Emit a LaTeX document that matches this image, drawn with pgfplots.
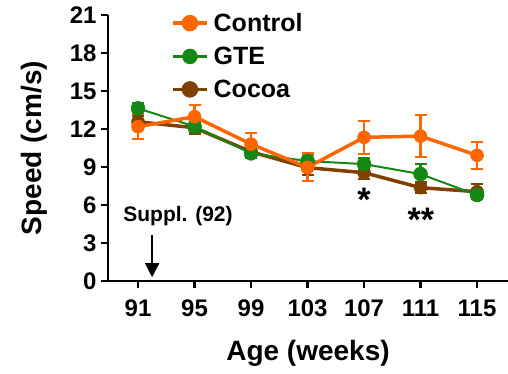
\documentclass[border=0pt]{standalone}
\usepackage{pgfplots}
\pgfplotsset{compat=1.18}
\usepackage{fontspec}
\setmainfont{Liberation Sans}
\usetikzlibrary{arrows.meta}
\definecolor{ctrl}{RGB}{255,102,0}
\definecolor{gte}{RGB}{20,135,20}
\definecolor{cocoa}{RGB}{128,64,0}
\pgfplotsset{eb/.style={error bars/y dir=both, error bars/y explicit,
  error bars/error bar style={line width=2.2pt},
  error bars/error mark options={rotate=90, mark size=6pt, line width=2.2pt}}}
\begin{document}
\begin{tikzpicture}
\begin{axis}[
  scale only axis, width=400pt, height=266pt,
  xmin=88.876, xmax=117.19, ymin=0, ymax=21,
  axis lines=left, axis line style={line width=2.5pt,-},
  every tick/.style={line width=2.5pt,black},
  tick align=outside, major tick length=7pt,
  xtick={91,95,99,103,107,111,115},
  ytick={0,3,6,9,12,15,18,21},
  /pgf/number format/assume math mode=true,
  ticklabel style={font=\fontsize{24}{28}\selectfont\bfseries},
  xticklabel style={yshift=-8pt},
  yticklabel style={xshift=-1pt},
  xlabel={Age (weeks)}, ylabel={Speed (cm/s)},
  label style={font=\fontsize{28}{32}\selectfont\bfseries},
  xlabel style={yshift=-17pt},
  ylabel style={yshift=16pt},
  clip=false,
  legend style={draw=none, fill=none, at={(rel axis cs:0.15,1.022)}, anchor=north west,
    font=\fontsize{25}{29}\selectfont\bfseries, row sep=10pt,
    legend cell align=left},
  legend image code/.code={\draw[#1,mark=none] (0pt,0pt) -- (34pt,0pt);
    \draw[#1,only marks] plot coordinates {(17pt,0pt)};
    \path (37pt,0pt);},
]
% Cocoa
\addplot[cocoa, line width=3.5pt, mark=*, mark size=6.5pt, mark options={solid,line width=0.5pt},
  eb, forget plot]
  coordinates {
  (91,12.57) +- (0,0.5)
  (95,12.1) +- (0,0.5)
  (99,10.2) +- (0,0.4)
  (103,8.95) +- (0,0.6)
  (107,8.55) +- (0,0.5)
  (111,7.37) +- (0,0.4)
  (115,7.05) +- (0,0.6)
};
% GTE
\addplot[gte, line width=2pt, mark=*, mark size=7pt, mark options={solid,line width=0.5pt},
  eb, forget plot]
  coordinates {
  (91,13.63) +- (0,0.4)
  (95,12.2) +- (0,0.4)
  (99,10.08) +- (0,0.4)
  (103,9.47) +- (0,0.5)
  (107,9.23) +- (0,0.5)
  (111,8.44) +- (0,0.8)
  (115,6.79) +- (0,0.3)
};
% Control
\addplot[ctrl, line width=3.5pt, mark=*, mark size=6.5pt, mark options={solid,line width=0.5pt},
  eb, forget plot]
  coordinates {
  (91,12.18) +- (0,1.0)
  (95,12.97) +- (0,0.9)
  (99,10.81) +- (0,0.9)
  (103,8.97) +- (0,1.1)
  (107,11.34) +- (0,1.3)
  (111,11.44) +- (0,1.65)
  (115,9.92) +- (0,1.05)
};
\addlegendimage{ctrl, line width=3.5pt, mark=*, mark size=6.5pt}
\addlegendentry{Control}
\addlegendimage{gte, line width=2.5pt, mark=*, mark size=6.5pt}
\addlegendentry{GTE}
\addlegendimage{cocoa, line width=3.5pt, mark=*, mark size=6.5pt}
\addlegendentry{Cocoa}
\node[font=\fontsize{34}{36}\selectfont\bfseries, anchor=base, inner sep=0pt] at (axis cs:107,5.49) {*};
\node[font=\fontsize{34}{36}\selectfont\bfseries, anchor=base, inner sep=0pt] at (axis cs:111.03,3.91) {**};
\node[font=\fontsize{21}{23}\selectfont\bfseries, anchor=base, inner sep=0pt] at (axis cs:93.83,4.66) {Suppl. (92)};
\draw[line width=1.6pt, -{Triangle[width=14pt,length=14pt]}] (axis cs:92,3.65) -- (axis cs:92,0.3);
\end{axis}
\pgfresetboundingbox
\path[use as bounding box] (-108pt,-92pt) rectangle (400pt,281pt);
\end{tikzpicture}
\end{document}
